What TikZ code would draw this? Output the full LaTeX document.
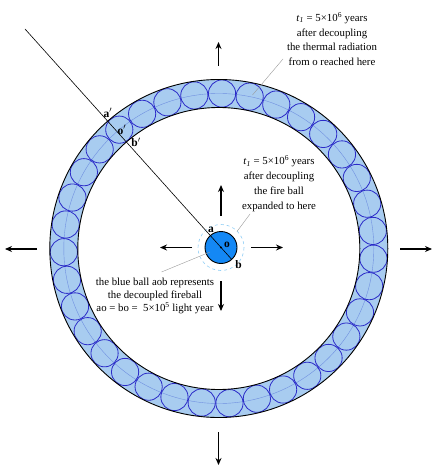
\documentclass[tikz,border=0pt]{standalone}
\usepackage{fontspec}
\setmainfont{Liberation Serif}
\usetikzlibrary{arrows.meta,calc}
\definecolor{ringfill}{HTML}{A8CCF0}
\definecolor{circblue}{HTML}{2B2BC8}
\definecolor{midblue}{HTML}{7090E0}
\definecolor{ballblue}{HTML}{1488F5}
\definecolor{dashblue}{HTML}{8CCCF5}
\tikzset{
  bigarrow/.style={line width=1.4pt,-{Stealth[length=7pt,width=6pt]}},
  leader/.style={draw=gray!80,line width=0.4pt},
  txt/.style={font=\fontsize{10.8}{14.8}\selectfont,align=center,inner sep=0pt},
  ptlabel/.style={font=\fontsize{11.5}{12}\selectfont\bfseries,inner sep=0pt}
}
\begin{document}
\begin{tikzpicture}[x=1pt,y=-1pt]
\useasboundingbox (0,0) rectangle (436,468);
\coordinate (C) at (218.8,248.5);
% ring
\fill[ringfill,even odd rule] (C) circle (169) (C) circle (141);
\draw[midblue,line width=0.4pt] (C) circle (155);
\foreach \i in {0,...,34}{
  \draw[circblue,line width=0.8pt] ($(C)+({88.8+\i*360/35}:155 and -155)$) circle (13.6);
}
\draw[line width=0.9pt] (C) circle (169);
\draw[line width=0.9pt] (C) circle (141);
% central ball
\coordinate (O) at (221,247.5);
\draw[dashblue,dashed,line width=0.6pt] (O) circle (23);
\draw[fill=ballblue,line width=0.9pt] (O) circle (16);
\fill (O) circle (1.2);
% main line
\coordinate (far) at ($(O)+(-196,-218.5)$);
\coordinate (bpt) at ($(O)+(10.7,11.9)$);
\draw[line width=0.6pt] (far) -- (bpt);
% labels
\node[ptlabel] (la) at (211,229.5) {a};
\node[ptlabel] (lo) at (227,245) {o};
\node[ptlabel] (lb) at (238.5,264.5) {b};
\node[ptlabel] (lap) at (108,113) {a$'$};
\node[ptlabel] (lop) at (122,130) {o$'$};
\node[ptlabel] (lbp) at (136,142.5) {b$'$};
% central arrows
\coordinate (u0) at (221,216); \coordinate (u1) at (221,185);
\coordinate (l0) at (192,247.5); \coordinate (l1) at (160,247.5);
\coordinate (r0) at (251,247.5); \coordinate (r1) at (283,247.5);
\coordinate (d0) at (221,281); \coordinate (d1) at (221,311);
\draw[bigarrow] (u0) -- (u1);
\draw[bigarrow] (l0) -- (l1);
\draw[bigarrow] (r0) -- (r1);
\draw[bigarrow] (d0) -- (d1);
% outer arrows
\coordinate (U0) at (218.5,66); \coordinate (U1) at (218.5,42);
\coordinate (L0) at (37,249); \coordinate (L1) at (5,249);
\coordinate (R0) at (400,249); \coordinate (R1) at (432,249);
\coordinate (D0) at (218.5,432); \coordinate (D1) at (218.5,465);
\draw[bigarrow] (U0) -- (U1);
\draw[bigarrow] (L0) -- (L1);
\draw[bigarrow] (R0) -- (R1);
\draw[bigarrow] (D0) -- (D1);
% texts
\node[txt] (t1) at (332,39) {\textit{t}\textsubscript{\textit{1}} = 5×10\textsuperscript{6} years\\after decoupling\\the thermal radiation\\from o reached here};
\node[txt] (t2) at (279,183.5) {\textit{t}\textsubscript{\textit{1}} = 5×10\textsuperscript{6} years\\after decoupling\\the fire ball\\expanded to here};
\node[txt,font=\fontsize{10.8}{13}\selectfont] (t3) at (155,295.5) {the blue ball aob represents\\the decoupled fireball\\ao = bo = \ 5×10\textsuperscript{5} light year};
% leaders
\coordinate (e1) at (252.5,95);
\coordinate (e2) at (237,231.5);
\coordinate (e3) at (210,252);
\draw[leader] (283,59) -- (e1);
\draw[leader] (250,214) -- (e2);
\draw[leader] (161.5,272) -- (e3);
\end{tikzpicture}
\end{document}
